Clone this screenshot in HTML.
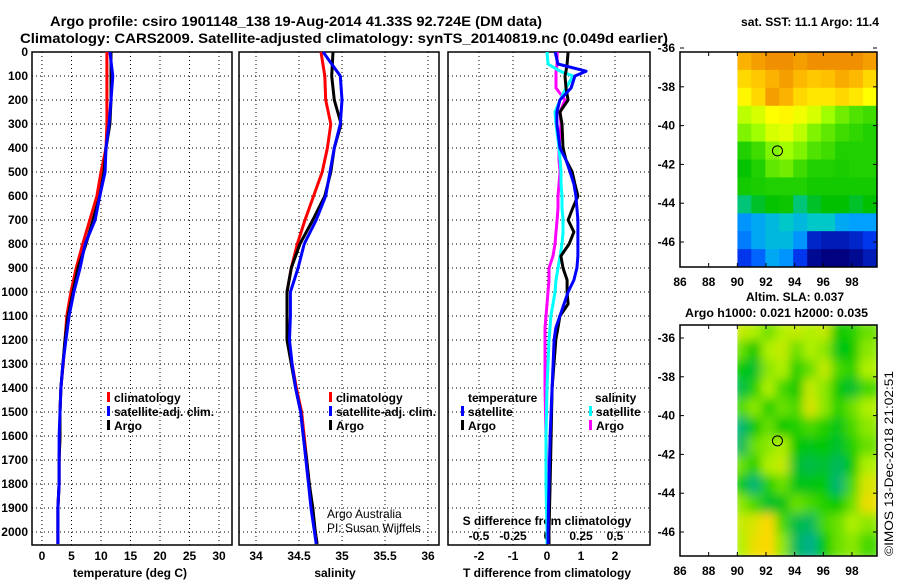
<!DOCTYPE html>
<html><head><meta charset="utf-8"><style>
html,body{margin:0;padding:0;background:#fff;}
svg{display:block;font-family:"Liberation Sans",sans-serif;}
.b{font-weight:bold;font-size:12px;}
</style></head><body>
<svg id="s" width="900" height="580" viewBox="0 0 900 580">
<text x="50" y="26" font-size="14" font-weight="bold" textLength="492" lengthAdjust="spacingAndGlyphs">Argo profile: csiro 1901148_138 19-Aug-2014 41.33S 92.724E (DM data)</text>
<text x="20" y="43" font-size="14" font-weight="bold" textLength="648" lengthAdjust="spacingAndGlyphs">Climatology: CARS2009. Satellite-adjusted climatology: synTS_20140819.nc (0.049d earlier)</text>
<text x="741" y="26" font-size="12" font-weight="bold" textLength="138" lengthAdjust="spacingAndGlyphs">sat. SST: 11.1 Argo: 11.4</text>
<text x="746" y="301" font-size="12" font-weight="bold">Altim. SLA: 0.037</text>
<text x="685" y="317" font-size="12" font-weight="bold" textLength="183" lengthAdjust="spacingAndGlyphs">Argo h1000: 0.021 h2000: 0.035</text>
<text transform="translate(893,556) rotate(-90)" font-size="12" textLength="185" lengthAdjust="spacingAndGlyphs">©IMOS 13-Dec-2018 21:02:51</text>
<g id="g"></g>
</svg>
<script>
// ---- profile data ----
const depths=[0,100,200,300,400,500,600,700,800,900,1000,1100,1200,1300,1400,1500,1600,1700,1800,1900,2000,2050];
const tempClim=[11.0,11.0,11.0,11.0,10.85,10.0,9.3,8.1,6.9,5.8,4.9,4.2,3.9,3.6,3.2,3.05,3.05,2.9,2.9,2.7,2.7,2.7];
const tempSat=[11.5,12.0,11.7,11.35,10.85,10.7,9.8,9.0,7.3,6.45,5.4,4.6,4.05,3.55,3.2,3.05,2.9,2.9,2.9,2.7,2.7,2.7];
const tempArgo=[11.7,11.7,11.7,11.5,10.85,10.5,9.8,8.65,7.45,6.1,5.25,4.4,3.9,3.55,3.2,3.05,3.05,2.9,2.9,2.7,2.7,2.7];
const salClim=[34.756,34.80,34.81,34.87,34.83,34.77,34.67,34.57,34.48,34.41,34.36,34.36,34.37,34.42,34.47,34.53,34.56,34.59,34.62,34.65,34.69,34.71];
const salSat=[34.78,34.98,35.0,34.98,34.91,34.86,34.81,34.70,34.56,34.49,34.40,34.40,34.39,34.42,34.46,34.52,34.55,34.58,34.61,34.64,34.68,34.70];
const salArgo=[34.895,34.88,34.91,34.99,34.91,34.87,34.80,34.66,34.51,34.41,34.36,34.36,34.36,34.41,34.46,34.52,34.55,34.59,34.62,34.66,34.69,34.71];
// ---- difference data ----
const diffDepths=[0,50,80,100,150,200,250,300,400,450,500,550,600,650,700,750,800,850,900,950,1000,1050,1100,1150,1200,1400,1600,1800,2000,2050];
const tDiffArgo=[0.62,0.59,0.56,0.53,0.56,0.62,0.38,0.44,0.47,0.56,0.74,0.82,0.91,0.76,0.62,0.79,0.65,0.41,0.47,0.59,0.59,0.62,0.38,0.32,0.26,0.15,0.12,0.09,0.06,0.06];
const tDiffSat=[0.24,0.32,1.15,0.82,0.71,0.38,0.29,0.29,0.38,0.56,0.68,0.79,0.85,0.88,0.91,0.91,0.91,0.91,0.88,0.79,0.62,0.50,0.38,0.26,0.21,0.15,0.09,0.06,0.03,0.03];
const sDiffSat=[0,0.007,0.096,0.191,0.140,0.096,0.059,0.066,0.088,0.096,0.103,0.103,0.110,0.110,0.118,0.118,0.110,0.096,0.081,0.066,0.059,0.044,0.029,0.022,0.015,0,-0.007,-0.007,0,0];
const sDiffArgo=[0.074,0.074,0.066,0.066,0.066,0.132,0.096,0.103,0.088,0.088,0.096,0.088,0.081,0.081,0.074,0.066,0.059,0.044,0.015,0.015,0.007,0,-0.007,-0.015,-0.015,-0.015,-0.007,0,0.007,0.007];
// ---- ticks ----
const depthTicks=[0,100,200,300,400,500,600,700,800,900,1000,1100,1200,1300,1400,1500,1600,1700,1800,1900,2000];
const tempTicks=[0,5,10,15,20,25,30];
const salTicks=[34,34.5,35,35.5,36];
const tDiffTicks=[-2,-1,0,1,2];
const sDiffTicks=[-0.5,-0.25,0,0.25,0.5];
const lonTicks=[86,88,90,92,94,96,98];
const latTicks=[-36,-38,-40,-42,-44,-46];
// ---- map grids (rows north->south, cols 90..99.5E) ----
const sstGrid=[
[13.5,13.8,14,14,13.8,14,14,14.2,14,13.8],
[13,13.2,13.5,13.8,13.4,13.2,13.3,13.6,13.4,13],
[12.6,13,13.8,13.5,13,12.8,12.8,13,12.8,12.5],
[12,12.2,12.5,12.6,12.4,12.2,11.8,11.5,11.3,11.2],
[11.6,11.8,12.2,12.3,12,11.6,11.4,11.2,11.1,11.0],
[11.0,11.2,11.6,11.8,11.6,11.3,11.2,11.0,11.0,11.0],
[10.6,11.0,11.4,11.5,11.2,11.0,11.0,10.9,11.0,11.0],
[10.8,10.9,11,11,11,10.8,10.8,10.8,10.8,10.8],
[10.2,10.4,10.6,10.7,10.2,10.4,10.5,10.5,10.4,10.5],
[9.4,9.6,9.8,10,9.8,10,10.0,9.6,9.5,9.5],
[9.2,9.6,9.8,9.8,9.4,8.4,8.3,8.3,8.4,8.6],
[8.6,9,9.6,9.4,8.6,8.1,8.0,8.0,8.1,8.3]];
const slaGrid=[
[0.6,0.5,0.3,0.5,0.6,0.5,0.6,0.0,0.1,0.3],
[0.3,0.0,0.5,0.6,0.3,0.5,0.4,-0.1,0.0,0.4],
[0.0,-0.2,0.4,0.5,0.1,0.3,0.6,0.2,0.1,0.5],
[-0.3,0.1,0.5,0.2,0.0,0.6,0.4,0.0,-0.2,0.2],
[0.2,0.4,0.1,0.3,0.2,0.7,0.4,0.1,0.3,0.5],
[-0.5,0.0,0.3,0.0,0.1,0.2,0.1,-0.1,0.2,0.4],
[-0.4,0.3,0.4,0.5,0.0,-0.1,0.0,-0.2,0.1,0.3],
[0.3,0.1,0.5,0.6,-0.2,-0.3,-0.2,-0.4,0.0,0.5],
[0.0,-0.5,0.1,0.3,-0.1,-0.1,0.0,-0.5,0.2,0.7],
[0.4,0.2,-0.2,-0.1,0.3,0.2,0.1,0.0,0.3,0.8],
[0.6,0.7,0.9,0.2,-0.3,-0.4,0.2,0.3,0.5,0.4],
[0.5,0.8,0.9,0.4,-0.4,-0.6,0.0,0.3,0.4,0.2]];
const floatLon=92.8, floatLat=-41.3;

const NS='http://www.w3.org/2000/svg';
const G=document.getElementById('g');
function mk(tag,attrs,parent){const e=document.createElementNS(NS,tag);for(const k in attrs)e.setAttribute(k,attrs[k]);(parent||G).appendChild(e);return e;}
function txt(x,y,s,attrs,parent){const e=mk('text',Object.assign({x:x,y:y},attrs||{}),parent);e.textContent=s;return e;}

const TOP=52,BOT=545;
const yD=d=>TOP+0.24*d;
const xT=v=>42+5.9*v;
const xS=v=>256+86*(v-34);
const xTd=v=>547+34*v;
const xSd=v=>547+136*v;
const panels=[[32,232],[239,439],[448,650]];

// grids & frames
panels.forEach((p,i)=>{
  const grp=mk('g',{});
  
  
  depthTicks.forEach(d=>{if(d>0)mk('line',{x1:p[0],x2:p[1],y1:yD(d),y2:yD(d),stroke:'#000','stroke-dasharray':'1,3'},grp);});
  let xs = i==0?tempTicks.map(xT):i==1?salTicks.map(xS):tDiffTicks.map(xTd);
  xs.forEach(x=>mk('line',{x1:x,x2:x,y1:TOP,y2:BOT,stroke:'#000','stroke-dasharray':'1,3'},grp));
  mk('rect',{x:p[0],y:TOP,width:p[1]-p[0],height:BOT-TOP,fill:'none',stroke:'#000','stroke-width':1.5},grp);
});
depthTicks.forEach(d=>{const t=txt(28,yD(d)+4,String(d),{'text-anchor':'end',class:'b'});

});
tempTicks.forEach(v=>{const t=txt(xT(v),560,String(v),{'text-anchor':'middle',class:'b'});

});
salTicks.forEach(v=>{const t=txt(xS(v),560,String(v),{'text-anchor':'middle',class:'b'});

});
tDiffTicks.forEach(v=>{const t=txt(xTd(v),560,String(v),{'text-anchor':'middle',class:'b'});

});
sDiffTicks.forEach(v=>{const t=txt(xSd(v),540,String(v),{'text-anchor':'middle',class:'b'});

});
let a;
a=txt(130,577,'temperature (deg C)',{'text-anchor':'middle',class:'b'});


a=txt(335,577,'salinity',{'text-anchor':'middle',class:'b'});


a=txt(547,577,'T difference from climatology',{'text-anchor':'middle',class:'b'});


a=txt(547,525,'S difference from climatology',{'text-anchor':'middle',class:'b'});


a=txt(327,518,'Argo Australia',{'font-size':12});


a=txt(327,532,'PI: Susan Wijffels',{'font-size':12});



function line(vals,dep,xf,color,name){
  const pts=vals.map((v,i)=>xf(v).toFixed(1)+','+yD(dep[i]).toFixed(1)).join(' ');
  const e=mk('polyline',{points:pts,fill:'none',stroke:color,'stroke-width':3,'stroke-linejoin':'round'});
  
  
}
line(tempClim,depths,xT,'#ff0000','temperature-climatology-line');
line(tempArgo,depths,xT,'#000000','temperature-argo-line');
line(tempSat,depths,xT,'#0000ff','temperature-satellite-line');
line(salClim,depths,xS,'#ff0000','salinity-climatology-line');
line(salArgo,depths,xS,'#000000','salinity-argo-line');
line(salSat,depths,xS,'#0000ff','salinity-satellite-line');
line(sDiffArgo,diffDepths,xSd,'#ff00ff','s-diff-argo-line');
line(sDiffSat,diffDepths,xSd,'#00ffff','s-diff-satellite-line');
line(tDiffArgo,diffDepths,xTd,'#000000','t-diff-argo-line');
line(tDiffSat,diffDepths,xTd,'#0000ff','t-diff-satellite-line');

function legend(x,y,color,label){
  const e=mk('g',{});
  
  
  mk('rect',{x:x,y:y-10,width:3,height:10,fill:color},e);
  txt(x+7,y,label,{class:'b'},e);
}
legend(107,402,'#ff0000','climatology');legend(107,416,'#0000ff','satellite-adj. clim.');legend(107,430,'#000','Argo');
legend(329,402,'#ff0000','climatology');legend(329,416,'#0000ff','satellite-adj. clim.');legend(329,430,'#000','Argo');
a=txt(468,402,'temperature',{class:'b'});


a=txt(595,402,'salinity',{class:'b'});


legend(461,416,'#0000ff','satellite');legend(461,430,'#000','Argo');
legend(589,416,'#00ffff','satellite');legend(589,430,'#ff00ff','Argo');

// ---- maps ----
const mX=lon=>680+14.33*(lon-86);
function sstColor(v){
  const st=[[8,[0,0,128]],[8.7,[0,64,255]],[9.5,[0,160,255]],[10,[0,200,200]],[10.5,[0,192,0]],[11,[32,208,0]],[11.8,[160,255,0]],[12.5,[255,255,0]],[13.3,[255,192,0]],[14,[240,144,0]]];
  return interp(st,v);}
function slaColor(v){
  const st=[[-0.6,[0,176,140]],[0,[0,200,0]],[0.5,[176,240,0]],[0.9,[255,216,0]]];
  return interp(st,v);}
function interp(st,v){
  if(v<=st[0][0])return 'rgb('+st[0][1]+')';
  for(let i=1;i<st.length;i++){if(v<=st[i][0]){const f=(v-st[i-1][0])/(st[i][0]-st[i-1][0]);const c=st[i-1][1].map((c0,k)=>Math.round(c0+f*(st[i][1][k]-c0)));return 'rgb('+c+')';}}
  return 'rgb('+st[st.length-1][1]+')';}
function drawMap(top,bottom,latTopVal,latAt36,grid,colorFn,blur,name){
  const mg=mk('g',{});
  
  
  const yL=lat=>latAt36+19.4*(-36-lat);
  const x0=mX(90),x1=877;
  const rows=grid.length,cols=grid[0].length;
  const cw=(x1-x0)/cols,ch=(bottom-top)/rows;
  const cid='clip'+name;
  const cp=mk('clipPath',{id:cid},mg);mk('rect',{x:x0,y:top,width:x1-x0,height:bottom-top},cp);
  const cells=mk('g',{'clip-path':'url(#'+cid+')'},mg);
  const inner=mk('g',blur?{filter:'url(#bl)'}:{},cells);
  grid.forEach((row,r)=>row.forEach((v,c)=>{
    const e=mk('rect',{x:(x0+c*cw-(blur?4:0)).toFixed(1),y:(top+r*ch-(blur?4:0)).toFixed(1),width:(cw+(blur?8:0.6)).toFixed(1),height:(ch+(blur?8:0.6)).toFixed(1),fill:colorFn(v)},inner);
    
    
  }));
  mk('rect',{x:680,y:top,width:x1-680,height:bottom-top,fill:'none',stroke:'#000','stroke-width':1.5},mg);
  lonTicks.forEach(l=>{mk('line',{x1:mX(l),x2:mX(l),y1:top,y2:top+4,stroke:'#000'},mg);mk('line',{x1:mX(l),x2:mX(l),y1:bottom,y2:bottom-4,stroke:'#000'},mg);
    const t=txt(mX(l),bottom+19,String(l),{'text-anchor':'middle',class:'b'},mg);
    
    });
  latTicks.forEach(l=>{mk('line',{x1:873,x2:877,y1:yL(l),y2:yL(l),stroke:'#000'},mg);mk('line',{x1:680,x2:684,y1:yL(l),y2:yL(l),stroke:'#000'},mg);
    const t=txt(675,yL(l)+4,String(l),{'text-anchor':'end',class:'b'},mg);
    
    });
  const c=mk('circle',{cx:mX(floatLon),cy:yL(floatLat),r:5,fill:'none',stroke:'#000'},mg);
  
  
}
const defs=mk('defs',{});const f=mk('filter',{id:'bl',x:'-10%',y:'-10%',width:'120%',height:'120%'},defs);mk('feGaussianBlur',{stdDeviation:5},f);
drawMap(52,267,-36.2,48,sstGrid,sstColor,false,'sst-map');
drawMap(325,556,-35.3,338,slaGrid,slaColor,true,'sla-map');
</script>
</body></html>
